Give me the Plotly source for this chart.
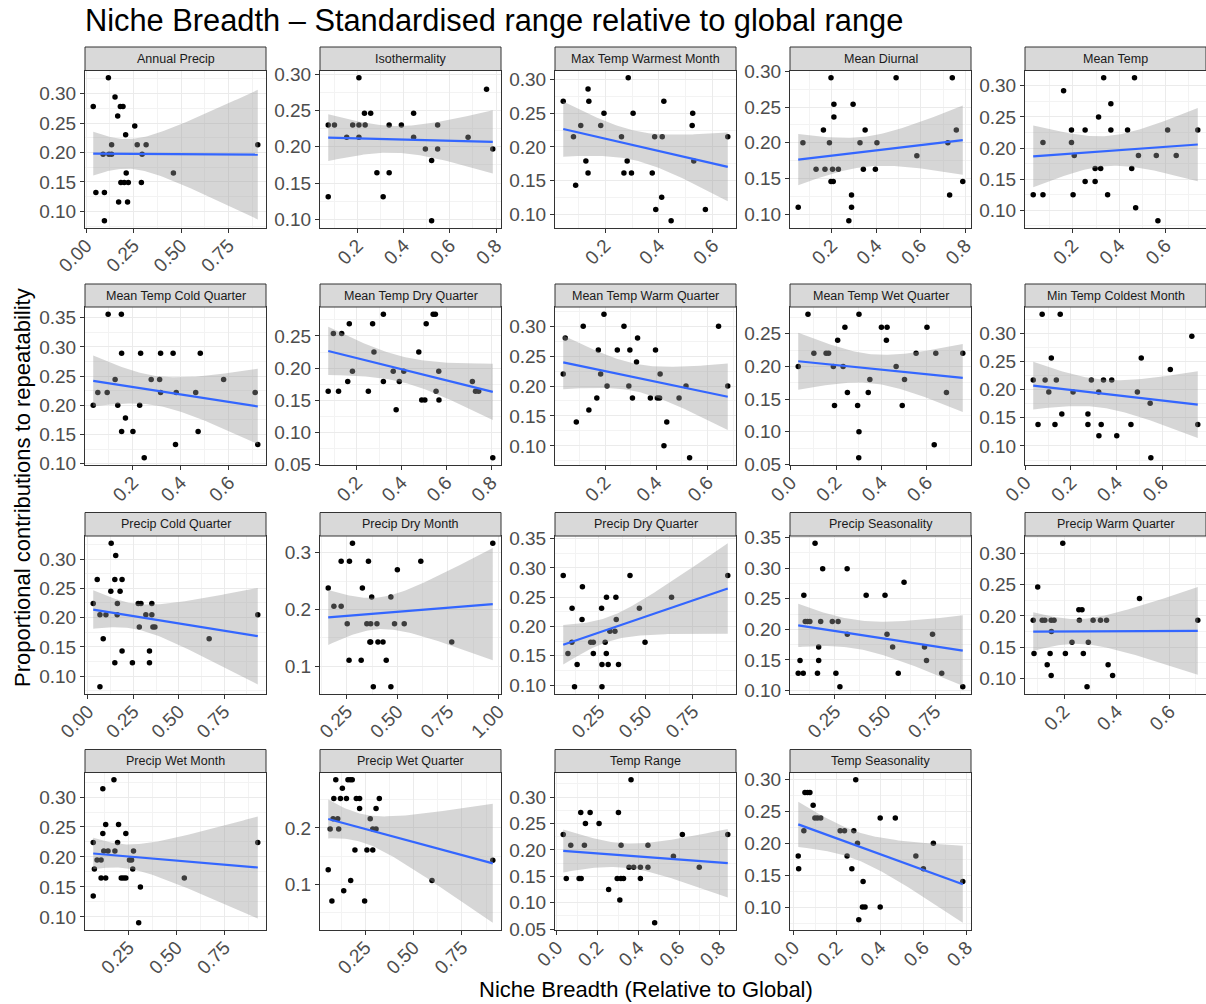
import numpy as np
import plotly.graph_objects as go

# ---------------- data ----------------
panel_titles = [
    "Annual Precip", "Isothermality", "Max Temp Warmest Month", "Mean Diurnal", "Mean Temp",
    "Mean Temp Cold Quarter", "Mean Temp Dry Quarter", "Mean Temp Warm Quarter", "Mean Temp Wet Quarter", "Min Temp Coldest Month",
    "Precip Cold Quarter", "Precip Dry Month", "Precip Dry Quarter", "Precip Seasonality", "Precip Warm Quarter",
    "Precip Wet Month", "Precip Wet Quarter", "Temp Range", "Temp Seasonality",
]

annual_precip_x = [0.037,0.051,0.096,0.096,0.117,0.089,0.120,0.134,0.134,0.152,0.166,0.180,0.194,0.208,0.211,0.171,0.218,0.183,0.201,0.222,0.256,0.269,0.295,0.291,0.316,0.460,0.905]
annual_precip_y = [0.278,0.132,0.132,0.084,0.327,0.197,0.197,0.197,0.213,0.294,0.262,0.278,0.278,0.230,0.165,0.116,0.116,0.149,0.149,0.149,0.245,0.213,0.197,0.149,0.213,0.165,0.213]

isothermality_x = [0.073,0.100,0.073,0.153,0.179,0.206,0.233,0.206,0.206,0.230,0.257,0.284,0.311,0.337,0.337,0.390,0.443,0.443,0.494,0.521,0.521,0.547,0.547,0.679,0.759,0.786]
isothermality_y = [0.230,0.230,0.131,0.213,0.230,0.230,0.230,0.213,0.295,0.246,0.246,0.164,0.131,0.230,0.164,0.230,0.246,0.213,0.197,0.181,0.098,0.230,0.197,0.213,0.279,0.197]

max_temp_warm_x = [0.045,0.083,0.091,0.110,0.129,0.137,0.140,0.137,0.184,0.196,0.261,0.270,0.282,0.286,0.298,0.304,0.375,0.384,0.388,0.412,0.410,0.418,0.445,0.525,0.523,0.529,0.572,0.655]
max_temp_warm_y = [0.268,0.215,0.143,0.232,0.179,0.286,0.268,0.161,0.232,0.250,0.215,0.161,0.179,0.303,0.161,0.250,0.161,0.215,0.107,0.215,0.125,0.268,0.090,0.250,0.232,0.179,0.107,0.215]

mean_diurnal_x = [0.050,0.071,0.130,0.163,0.170,0.190,0.197,0.204,0.230,0.197,0.207,0.210,0.210,0.277,0.289,0.289,0.296,0.327,0.342,0.350,0.403,0.396,0.489,0.582,0.721,0.729,0.741,0.759,0.788]
mean_diurnal_y = [0.110,0.200,0.163,0.218,0.163,0.200,0.291,0.163,0.163,0.146,0.146,0.254,0.236,0.091,0.127,0.110,0.254,0.200,0.163,0.218,0.200,0.163,0.291,0.182,0.200,0.127,0.291,0.218,0.146]

mean_temp_x = [0.029,0.071,0.071,0.160,0.194,0.194,0.206,0.201,0.253,0.253,0.296,0.320,0.296,0.311,0.333,0.350,0.364,0.364,0.436,0.454,0.466,0.471,0.483,0.560,0.567,0.609,0.646,0.739]
mean_temp_y = [0.125,0.125,0.209,0.292,0.229,0.209,0.188,0.125,0.229,0.146,0.167,0.167,0.146,0.250,0.313,0.125,0.271,0.229,0.229,0.167,0.313,0.104,0.188,0.188,0.083,0.229,0.188,0.229]

mt_cold_q_x = [0.036,0.055,0.094,0.098,0.127,0.138,0.153,0.154,0.154,0.170,0.201,0.229,0.233,0.248,0.277,0.312,0.316,0.316,0.368,0.378,0.381,0.462,0.472,0.481,0.578,0.709,0.720]
mt_cold_q_y = [0.200,0.222,0.222,0.356,0.244,0.200,0.356,0.289,0.155,0.178,0.155,0.200,0.289,0.110,0.244,0.244,0.289,0.222,0.289,0.133,0.222,0.222,0.155,0.289,0.244,0.222,0.133]

mt_dry_q_x = [0.073,0.096,0.119,0.133,0.160,0.167,0.181,0.252,0.271,0.277,0.319,0.319,0.363,0.376,0.390,0.410,0.477,0.490,0.504,0.510,0.541,0.551,0.554,0.566,0.567,0.716,0.730,0.744,0.807]
mt_dry_q_y = [0.164,0.254,0.164,0.254,0.179,0.269,0.195,0.164,0.269,0.225,0.284,0.179,0.195,0.135,0.179,0.195,0.225,0.150,0.150,0.269,0.284,0.284,0.164,0.195,0.150,0.179,0.164,0.164,0.060]

mt_warm_q_x = [0.037,0.045,0.088,0.115,0.137,0.168,0.174,0.183,0.196,0.208,0.248,0.274,0.293,0.297,0.307,0.323,0.327,0.377,0.397,0.404,0.413,0.415,0.430,0.441,0.489,0.516,0.530,0.643,0.679]
mt_warm_q_y = [0.220,0.280,0.140,0.300,0.160,0.180,0.260,0.220,0.320,0.200,0.260,0.300,0.200,0.260,0.180,0.240,0.280,0.180,0.260,0.180,0.180,0.220,0.100,0.140,0.180,0.200,0.080,0.300,0.200]

mt_wet_q_x = [0.033,0.076,0.102,0.156,0.167,0.188,0.193,0.207,0.231,0.239,0.250,0.295,0.301,0.301,0.300,0.342,0.349,0.400,0.425,0.422,0.465,0.492,0.502,0.553,0.601,0.633,0.640,0.687,0.759]
mt_wet_q_y = [0.200,0.280,0.220,0.220,0.220,0.200,0.140,0.240,0.200,0.260,0.160,0.140,0.280,0.100,0.060,0.160,0.180,0.260,0.260,0.240,0.200,0.140,0.180,0.220,0.260,0.080,0.220,0.160,0.220]

min_temp_cold_x = [0.035,0.056,0.074,0.087,0.103,0.114,0.130,0.136,0.153,0.160,0.209,0.274,0.274,0.289,0.321,0.322,0.332,0.342,0.378,0.400,0.462,0.490,0.507,0.546,0.549,0.634,0.728,0.754]
min_temp_cold_y = [0.217,0.138,0.334,0.217,0.196,0.256,0.138,0.217,0.334,0.157,0.196,0.157,0.138,0.217,0.196,0.118,0.138,0.217,0.217,0.118,0.138,0.196,0.256,0.176,0.079,0.236,0.295,0.138]

precip_cold_q_x = [0.029,0.051,0.066,0.066,0.084,0.099,0.128,0.126,0.148,0.148,0.153,0.161,0.162,0.177,0.188,0.188,0.245,0.283,0.277,0.292,0.319,0.339,0.339,0.352,0.352,0.358,0.369,0.668,0.936]
precip_cold_q_y = [0.224,0.265,0.205,0.082,0.164,0.205,0.327,0.245,0.265,0.123,0.306,0.205,0.224,0.245,0.265,0.143,0.123,0.184,0.224,0.224,0.205,0.143,0.123,0.224,0.205,0.184,0.184,0.164,0.205]

precip_dry_m_x = [0.158,0.186,0.222,0.252,0.261,0.278,0.263,0.222,0.321,0.327,0.349,0.357,0.364,0.368,0.373,0.368,0.381,0.399,0.404,0.429,0.445,0.468,0.468,0.486,0.500,0.534,0.616,0.769,0.972]
precip_dry_m_y = [0.238,0.206,0.206,0.175,0.111,0.317,0.285,0.285,0.111,0.238,0.175,0.285,0.143,0.143,0.222,0.175,0.064,0.175,0.143,0.143,0.111,0.222,0.064,0.175,0.270,0.175,0.285,0.143,0.317]

precip_dry_q_x = [0.060,0.085,0.106,0.107,0.120,0.134,0.160,0.162,0.206,0.220,0.220,0.264,0.266,0.266,0.283,0.289,0.290,0.299,0.308,0.335,0.340,0.342,0.354,0.415,0.465,0.495,0.636,0.935]
precip_dry_q_y = [0.287,0.154,0.173,0.231,0.097,0.135,0.212,0.268,0.173,0.173,0.154,0.231,0.135,0.097,0.173,0.154,0.250,0.135,0.192,0.192,0.250,0.212,0.135,0.287,0.231,0.173,0.250,0.287]

precip_season_x = [0.067,0.076,0.092,0.095,0.102,0.113,0.125,0.151,0.163,0.169,0.169,0.179,0.189,0.237,0.255,0.266,0.275,0.311,0.312,0.406,0.500,0.510,0.538,0.566,0.595,0.697,0.707,0.737,0.783,0.888]
precip_season_y = [0.128,0.149,0.128,0.256,0.213,0.213,0.213,0.341,0.128,0.171,0.149,0.213,0.299,0.213,0.128,0.213,0.106,0.299,0.192,0.256,0.256,0.192,0.171,0.128,0.277,0.171,0.149,0.192,0.128,0.106]

precip_warm_q_x = [0.083,0.086,0.100,0.117,0.127,0.136,0.147,0.151,0.152,0.151,0.162,0.195,0.205,0.230,0.256,0.258,0.268,0.273,0.287,0.292,0.310,0.338,0.361,0.367,0.384,0.486,0.707]
precip_warm_q_y = [0.193,0.140,0.246,0.193,0.193,0.122,0.140,0.193,0.175,0.105,0.193,0.316,0.140,0.158,0.210,0.193,0.210,0.140,0.087,0.158,0.193,0.193,0.193,0.122,0.105,0.228,0.193]

precip_wet_m_x = [0.066,0.066,0.072,0.086,0.107,0.107,0.116,0.116,0.121,0.131,0.131,0.143,0.174,0.179,0.193,0.198,0.212,0.224,0.236,0.236,0.255,0.266,0.272,0.276,0.312,0.303,0.541,0.924]
precip_wet_m_y = [0.224,0.135,0.180,0.195,0.195,0.165,0.314,0.239,0.210,0.254,0.165,0.210,0.329,0.210,0.224,0.254,0.165,0.165,0.165,0.239,0.195,0.195,0.180,0.210,0.150,0.090,0.165,0.224]

precip_wet_q_x = [0.059,0.069,0.078,0.084,0.088,0.098,0.108,0.113,0.122,0.132,0.139,0.153,0.161,0.173,0.175,0.183,0.197,0.204,0.221,0.221,0.247,0.259,0.276,0.289,0.289,0.306,0.306,0.323,0.595,0.909]
precip_wet_q_y = [0.126,0.198,0.071,0.216,0.252,0.285,0.216,0.198,0.252,0.270,0.089,0.252,0.285,0.285,0.107,0.285,0.161,0.252,0.252,0.234,0.071,0.161,0.216,0.198,0.161,0.198,0.234,0.252,0.107,0.143]

temp_range_x = [0.031,0.046,0.068,0.109,0.119,0.117,0.135,0.140,0.163,0.207,0.254,0.296,0.302,0.309,0.314,0.315,0.327,0.354,0.364,0.377,0.410,0.410,0.447,0.447,0.480,0.572,0.616,0.699,0.839]
temp_range_y = [0.229,0.146,0.209,0.146,0.146,0.271,0.209,0.250,0.271,0.250,0.125,0.146,0.271,0.105,0.146,0.209,0.146,0.167,0.333,0.167,0.167,0.146,0.209,0.167,0.062,0.188,0.229,0.167,0.229]

temp_season_x = [0.021,0.023,0.047,0.052,0.064,0.075,0.090,0.098,0.110,0.125,0.215,0.235,0.247,0.269,0.278,0.287,0.295,0.301,0.321,0.318,0.330,0.400,0.400,0.470,0.565,0.600,0.646,0.782]
temp_season_y = [0.180,0.160,0.220,0.280,0.280,0.280,0.260,0.240,0.240,0.240,0.220,0.220,0.180,0.160,0.220,0.300,0.200,0.080,0.140,0.100,0.100,0.100,0.240,0.240,0.180,0.160,0.200,0.140]

panel_x = [annual_precip_x, isothermality_x, max_temp_warm_x, mean_diurnal_x, mean_temp_x,
           mt_cold_q_x, mt_dry_q_x, mt_warm_q_x, mt_wet_q_x, min_temp_cold_x,
           precip_cold_q_x, precip_dry_m_x, precip_dry_q_x, precip_season_x, precip_warm_q_x,
           precip_wet_m_x, precip_wet_q_x, temp_range_x, temp_season_x]
panel_y = [annual_precip_y, isothermality_y, max_temp_warm_y, mean_diurnal_y, mean_temp_y,
           mt_cold_q_y, mt_dry_q_y, mt_warm_q_y, mt_wet_q_y, min_temp_cold_y,
           precip_cold_q_y, precip_dry_m_y, precip_dry_q_y, precip_season_y, precip_warm_q_y,
           precip_wet_m_y, precip_wet_q_y, temp_range_y, temp_season_y]

XQ = ["0.00", "0.25", "0.50", "0.75"]
XF = ["0.2", "0.4", "0.6"]
XF8 = ["0.2", "0.4", "0.6", "0.8"]
XZ = ["0.0", "0.2", "0.4", "0.6"]
XZ8 = ["0.0", "0.2", "0.4", "0.6", "0.8"]
XQ3 = ["0.25", "0.50", "0.75"]
x_tick_labels = [XQ, XF8, XF, XF8, XF,
                 XF, XF8, XF, XZ, XZ,
                 XQ, ["0.25", "0.50", "0.75", "1.00"], XQ3, XQ3, XF,
                 XQ3, XQ3, XZ8, XZ8]
Y5 = ["0.10", "0.15", "0.20", "0.25", "0.30"]
Y35 = ["0.10", "0.15", "0.20", "0.25", "0.30", "0.35"]
Y05 = ["0.05", "0.10", "0.15", "0.20", "0.25"]
y_tick_labels = [Y5, Y5, Y5, Y5, Y5,
                 Y35, Y05, Y5, Y05, Y5,
                 Y5, ["0.1", "0.2", "0.3"], Y35, Y35, Y5,
                 Y5, ["0.1", "0.2"], ["0.05", "0.10", "0.15", "0.20", "0.25", "0.30"], Y5]

title_text = "Niche Breadth \u2013 Standardised range relative to global range"
x_title = "Niche Breadth (Relative to Global)"
y_title = "Proportional contributions to repeatability"

# ---------------- layout geometry (pixels) ----------------
FONT = "Liberation Sans, Arial, Helvetica, sans-serif"
W, H = 1206, 1004
col_left = [85, 320, 555, 790, 1025]
panel_w = 181
row_strip_top = [47, 284, 512.5, 749.5]
row_plot_top = [70.5, 307, 536, 772.5]
row_plot_bottom = [228, 465, 694, 930]


def t975(df):
    z = 1.959963985
    g1 = (z**3 + z) / 4
    g2 = (5*z**5 + 16*z**3 + 3*z) / 96
    g3 = (3*z**7 + 19*z**5 + 17*z**3 - 15*z) / 384
    g4 = (79*z**9 + 776*z**7 + 1482*z**5 - 1920*z**3 - 945*z) / 92160
    return z + g1/df + g2/df**2 + g3/df**3 + g4/df**4


def minor_vals(ticks):
    step = ticks[1] - ticks[0]
    return [ticks[0] - step/2] + [t + step/2 for t in ticks]


fig = go.Figure()
shapes = []
annotations = []
layout_axes = {}

for i, name in enumerate(panel_titles):
    r, c = divmod(i, 5)
    k = i + 1
    xa = "x" if k == 1 else f"x{k}"
    ya = "y" if k == 1 else f"y{k}"
    x = np.array(panel_x[i], dtype=float)
    y = np.array(panel_y[i], dtype=float)
    n = len(x)
    b, a = np.polyfit(x, y, 1)
    res = y - (a + b*x)
    s = np.sqrt(np.sum(res**2) / (n - 2))
    xg = np.linspace(x.min(), x.max(), 80)
    yg = a + b*xg
    se = s*np.sqrt(1/n + (xg - x.mean())**2 / np.sum((x - x.mean())**2))
    tq = t975(n - 2)
    lo, hi = yg - tq*se, yg + tq*se

    fig.add_trace(go.Scatter(x=x, y=y, mode="markers", xaxis=xa, yaxis=ya,
                             marker=dict(color="black", size=5.5), showlegend=False, hoverinfo="skip"))
    fig.add_trace(go.Scatter(x=np.concatenate([xg, xg[::-1]]), y=np.concatenate([hi, lo[::-1]]),
                             mode="lines", fill="toself", fillcolor="rgba(153,153,153,0.4)",
                             line=dict(width=0), xaxis=xa, yaxis=ya, showlegend=False, hoverinfo="skip"))
    fig.add_trace(go.Scatter(x=xg, y=yg, mode="lines", line=dict(color="#3366FF", width=2.2),
                             xaxis=xa, yaxis=ya, showlegend=False, hoverinfo="skip"))

    xmin, xmax = x.min(), x.max()
    xr = [xmin - 0.05*(xmax - xmin), xmax + 0.05*(xmax - xmin)]
    ymin, ymax = min(y.min(), lo.min()), max(y.max(), hi.max())
    yr = [ymin - 0.05*(ymax - ymin), ymax + 0.05*(ymax - ymin)]

    xt = [float(v) for v in x_tick_labels[i]]
    yt = [float(v) for v in y_tick_labels[i]]
    L = col_left[c]
    dom_x = [L / W, (L + panel_w) / W]
    dom_y = [1 - row_plot_bottom[r] / H, 1 - row_plot_top[r] / H]

    common = dict(showline=True, mirror=True, linecolor="#333333", linewidth=1,
                  showgrid=True, gridcolor="#EBEBEB", gridwidth=1.1, zeroline=False,
                  ticks="outside", ticklen=4, tickcolor="#333333", tickwidth=1,
                  tickfont=dict(family=FONT, size=19, color="#4D4D4D"),
                  tickmode="array", fixedrange=True, automargin=False)
    layout_axes["xaxis" if k == 1 else f"xaxis{k}"] = dict(
        common, domain=dom_x, anchor=ya, range=xr, tickvals=xt, ticktext=x_tick_labels[i],
        tickangle=-45, ticklabelstandoff=-6,
        minor=dict(tickmode="array", tickvals=minor_vals(xt), showgrid=True,
                   gridcolor="#F3F3F3", gridwidth=0.7, ticks=""))
    layout_axes["yaxis" if k == 1 else f"yaxis{k}"] = dict(
        common, domain=dom_y, anchor=xa, range=yr, tickvals=yt, ticktext=y_tick_labels[i],
        minor=dict(tickmode="array", tickvals=minor_vals(yt), showgrid=True,
                   gridcolor="#F3F3F3", gridwidth=0.7, ticks=""))

    # strip
    shapes.append(dict(type="rect", xref="paper", yref="paper",
                       x0=L / W, x1=(L + panel_w) / W,
                       y0=1 - row_plot_top[r] / H, y1=1 - row_strip_top[r] / H,
                       fillcolor="#D9D9D9", line=dict(color="#333333", width=1), layer="above"))
    annotations.append(dict(text=name, xref="paper", yref="paper",
                            x=(L + panel_w / 2) / W,
                            y=1 - (row_strip_top[r] + row_plot_top[r]) / 2 / H,
                            xanchor="center", yanchor="middle", showarrow=False,
                            font=dict(family=FONT, size=12.5, color="#1A1A1A")))

annotations.append(dict(text=title_text, xref="paper", yref="paper", x=83 / W, y=1 - 21 / H,
                        xanchor="left", yanchor="middle", showarrow=False,
                        font=dict(family=FONT, size=30.8, color="black")))
annotations.append(dict(text=x_title, xref="paper", yref="paper", x=646 / W, y=1 - 989 / H,
                        xanchor="center", yanchor="middle", showarrow=False,
                        font=dict(family=FONT, size=22, color="black")))
annotations.append(dict(text=y_title, xref="paper", yref="paper", x=22 / W, y=1 - 488 / H,
                        xanchor="center", yanchor="middle", showarrow=False, textangle=-90,
                        font=dict(family=FONT, size=22, color="black")))

fig.update_layout(width=W, height=H, margin=dict(l=0, r=0, t=0, b=0, pad=0, autoexpand=False),
                  paper_bgcolor="white", plot_bgcolor="white",
                  shapes=shapes, annotations=annotations, showlegend=False,
                  **layout_axes)

fig.write_html("out.html", config={"displayModeBar": False},
               post_script="document.body.style.margin='0px';document.body.style.overflow='hidden';")
